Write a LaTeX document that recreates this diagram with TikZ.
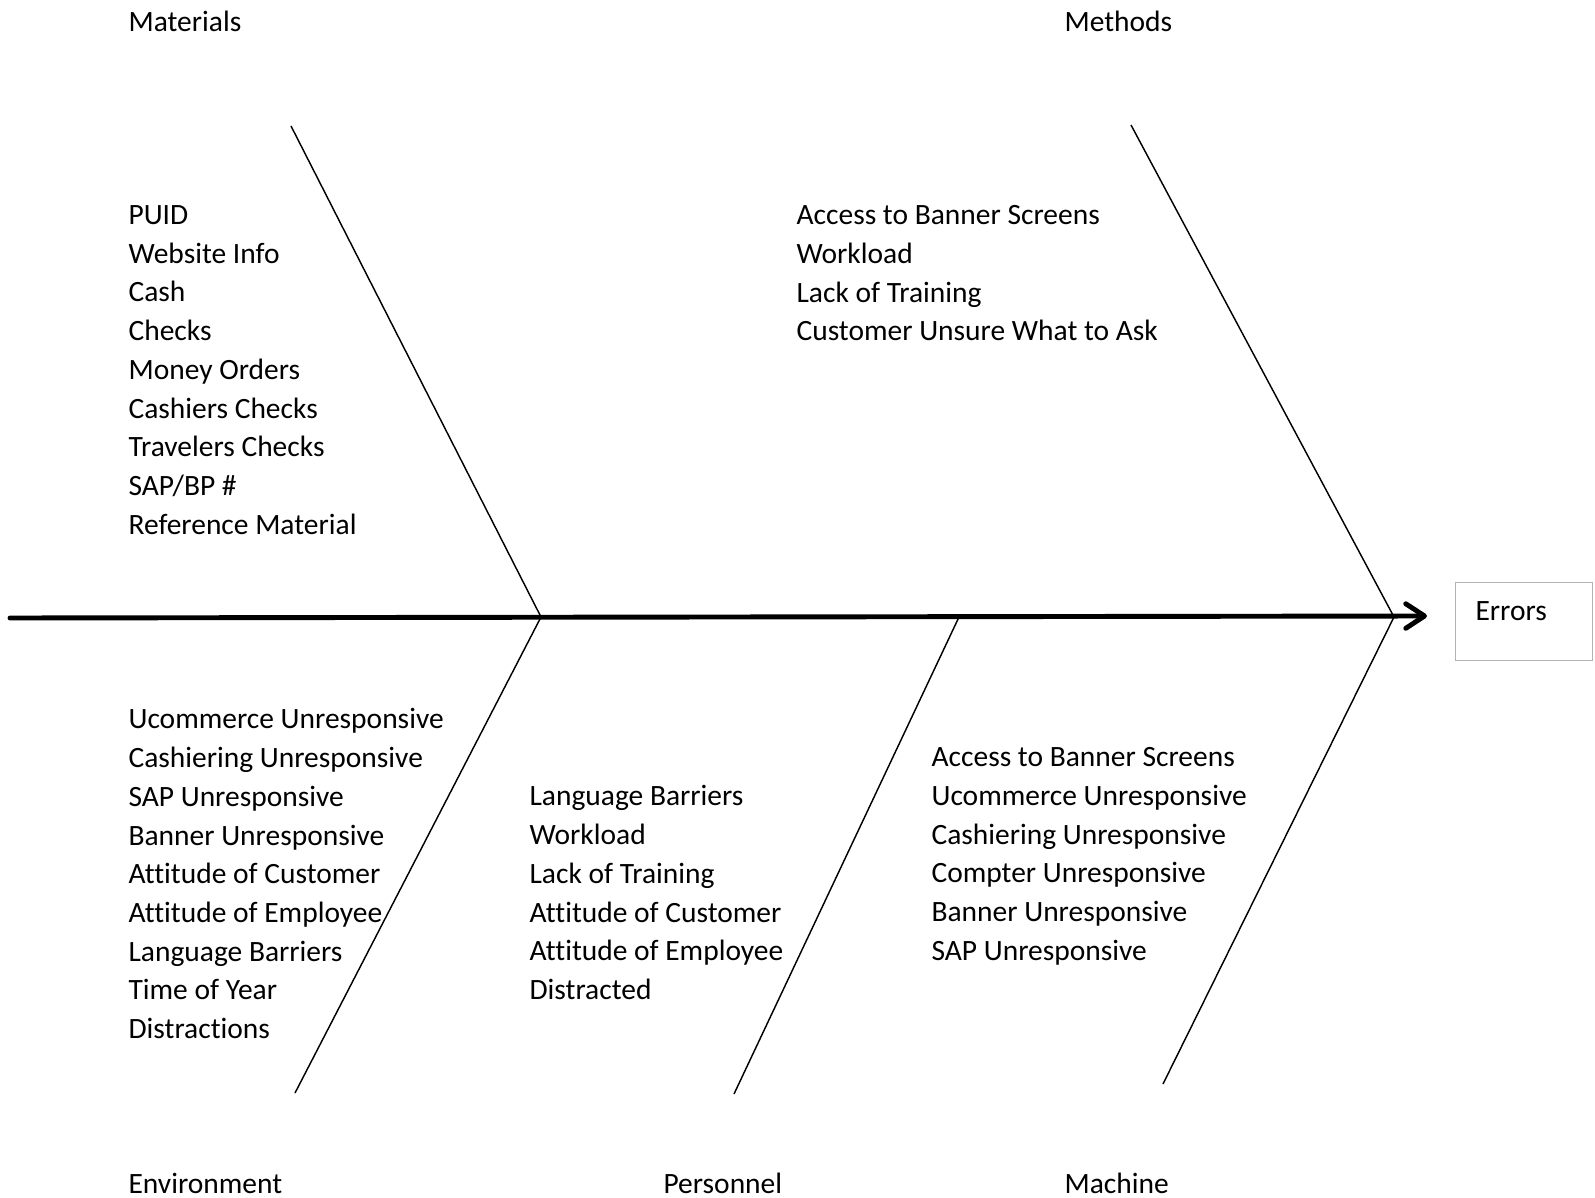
\documentclass[tikz,border=0pt]{standalone}
\usepackage{fontspec}
\setmainfont{Carlito}[Ligatures=NoCommon]
\usetikzlibrary{arrows.meta}
\usetikzlibrary{positioning}

\tikzset{
  catname/.style={anchor=west, inner sep=0pt, font=\fontsize{10.2pt}{13.4pt}\selectfont},
  causes/.style={anchor=north west, inner sep=0pt, align=left, font=\fontsize{10.2pt}{13.4pt}\selectfont},
  bone/.style={line width=0.5pt},
  spine/.style={line width=1.7pt, line cap=round, -{Straight Barb[length=6.5pt,width=8.5pt,line cap=round,line join=round]}},
  effect/.style={draw=gray!60, line width=0.4pt, anchor=north west, inner xsep=6.9pt, inner ysep=0pt,
                 text width=33.6pt, align=left, text height=13.1pt, text depth=13.8pt,
                 font=\fontsize{10.2pt}{13.4pt}\selectfont}
}

\begin{document}
\begin{tikzpicture}[x=0.346pt, y=-0.346pt]
    \useasboundingbox (0,0) rectangle (1595,1198);

    % spine and head
    \coordinate (tail) at (10,618);
    \coordinate (head) at (1427,616);
    \coordinate (jA) at (541,617);
    \coordinate (jB) at (959,617);
    \coordinate (jC) at (1394,617);
    \node[effect] (errors) at (1455,582) {Errors};
    \draw[spine] (tail) -- (head);

    % bones
    \coordinate (matTop) at (291,126);
    \coordinate (metTop) at (1131,125);
    \coordinate (envEnd) at (295,1093);
    \coordinate (perEnd) at (734,1094);
    \coordinate (macEnd) at (1163,1084);
    \draw[bone] (matTop) -- (jA) -- (envEnd);
    \draw[bone] (metTop) -- (jC) -- (macEnd);
    \draw[bone] (jB) -- (perEnd);

    % categories
    \node[catname] (materials)   at (128,21)   {Materials};
    \node[catname] (methods)     at (1064,21)  {Methods};
    \node[catname] (environment) at (128,1183) {Environment};
    \node[catname] (personnel)   at (663,1183) {Personnel};
    \node[catname] (machine)     at (1064,1183) {Machine};

    % causes
    \node[causes] (matList) at (128,205) {PUID\\Website Info\\Cash\\Checks\\Money Orders\\Cashiers Checks\\Travelers Checks\\SAP/BP \#\\Reference Material};
    \node[causes] (metList) at (796,205) {Access to Banner Screens\\Workload\\Lack of Training\\Customer Unsure What to Ask};
    \node[causes] (envList) at (128,708) {Ucommerce Unresponsive\\Cashiering Unresponsive\\SAP Unresponsive\\Banner Unresponsive\\Attitude of Customer\\Attitude of Employee\\Language Barriers\\Time of Year\\Distractions};
    \node[causes] (perList) at (529,785) {Language Barriers\\Workload\\Lack of Training\\Attitude of Customer\\Attitude of Employee\\Distracted};
    \node[causes] (macList) at (931,747) {Access to Banner Screens\\Ucommerce Unresponsive\\Cashiering Unresponsive\\Compter Unresponsive\\Banner Unresponsive\\SAP Unresponsive};
\end{tikzpicture}
\end{document}
